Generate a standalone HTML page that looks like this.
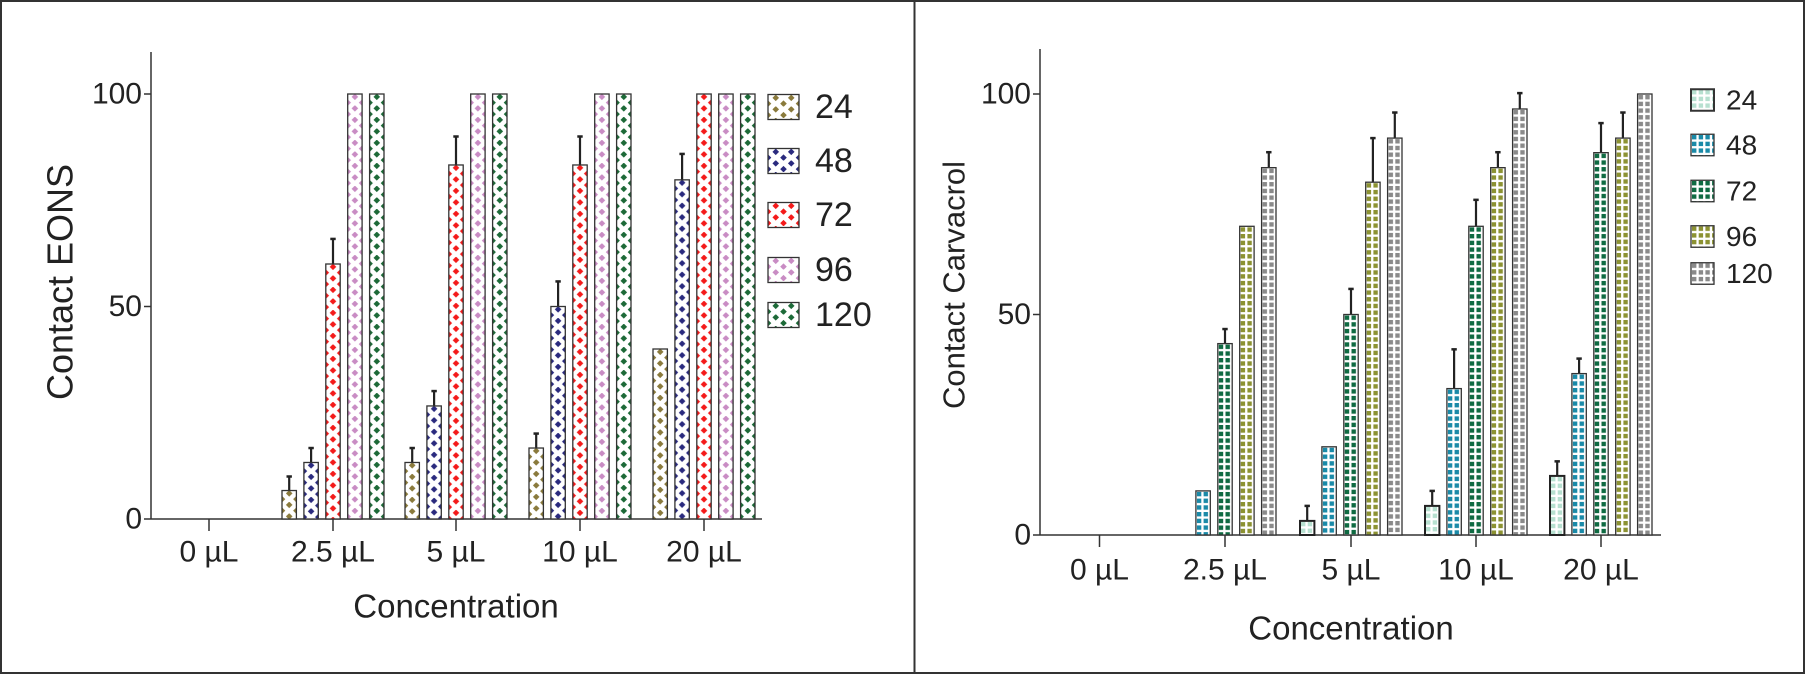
<!DOCTYPE html>
<html><head><meta charset="utf-8"><style>
html,body{margin:0;padding:0;background:#fff;}
svg{display:block;font-family:"Liberation Sans",sans-serif;}
</style></head><body>
<svg id="s" width="1805" height="674" xmlns="http://www.w3.org/2000/svg">
<defs id="d"></defs>
<rect x="1" y="1" width="1803" height="672" fill="#fff" stroke="#333" stroke-width="2"/>
<line x1="914.5" y1="0" x2="914.5" y2="674" stroke="#333" stroke-width="2"/>
<g id="g"></g>
</svg>
<script>
var NS="http://www.w3.org/2000/svg",g=document.getElementById('g'),d=document.getElementById('d'),pid=0;
function el(t,a,p){var e=document.createElementNS(NS,t);for(var k in a)e.setAttribute(k,a[k]);(p||g).appendChild(e);return e;}
function txt(x,y,s,fs,anc,rot){var t=el('text',{x:x,y:y,'font-size':fs,'text-anchor':anc||'middle','dominant-baseline':'central',fill:'#222'});if(rot)t.setAttribute('transform','rotate(-90 '+x+' '+y+')');t.textContent=s;return t;}
function diamond(x,y,w,col){var id='p'+(pid++);var H=11.5;var p=el('pattern',{id:id,patternUnits:'userSpaceOnUse',x:x,y:y,width:w,height:H},d);
 el('rect',{width:w,height:H,fill:'#fff'},p);
 var h=w/2,r=3.3;
 [[h,H*0.25],[0,H*0.75],[w,H*0.75]].forEach(function(c){el('polygon',{points:(c[0])+','+(c[1]-r)+' '+(c[0]+r)+','+c[1]+' '+c[0]+','+(c[1]+r)+' '+(c[0]-r)+','+c[1],fill:col},p);});
 return 'url(#'+id+')';}
function grid(x,y,col){var id='p'+(pid++);var p=el('pattern',{id:id,patternUnits:'userSpaceOnUse',x:x+1,y:y+1,width:6.7,height:6.7},d);
 el('rect',{width:6.7,height:6.7,fill:'#fff'},p);el('rect',{x:0,y:0,width:4.4,height:4.4,fill:col},p);return 'url(#'+id+')';}
function panel(o){
 var y0=o.y0,k=o.k;
 el('line',{x1:o.ax,y1:o.top,x2:o.ax,y2:y0,stroke:'#333','stroke-width':1.5});
 el('line',{x1:o.ax,y1:y0,x2:o.xend,y2:y0,stroke:'#333','stroke-width':1.5});
 [0,50,100].forEach(function(v){var y=y0-v*k;el('line',{x1:o.ax-7,y1:y,x2:o.ax,y2:y,stroke:'#333','stroke-width':1.5});txt(o.ax-9,y,String(v),30,'end');});
 var cats=['0 µL','2.5 µL','5 µL','10 µL','20 µL'];
 o.cx.forEach(function(c,ci){el('line',{x1:c,y1:y0,x2:c,y2:y0+12,stroke:'#333','stroke-width':1.5});txt(c,o.cly,cats[ci],30);
  for(var i=0;i<5;i++){var v=o.vals[ci][i];if(!v)continue;var x=c+(i-2)*21.9-7.2,y=y0-v*k,h=v*k;
   var e=o.errs[ci][i];
   if(e){var ye=y0-e*k;el('line',{x1:x+7.2,y1:y,x2:x+7.2,y2:ye,stroke:'#222','stroke-width':2.2});el('line',{x1:x+4.5,y1:ye,x2:x+9.9,y2:ye,stroke:'#222','stroke-width':2.5});}
   var f=o.type=='d'?diamond(x,y,14.4,o.cols[i]):grid(x,y,o.cols[i]);
   el('rect',{x:x,y:y,width:14.4,height:h,fill:f,stroke:(o.type=='g'&&i==0)?'#222':'#333','stroke-width':(o.type=='g'&&i==0)?2:1.3});}
 });
 o.leg.forEach(function(L,i){var f=o.type=='d'?diamond(o.lx,L-12,o.lw/2,o.cols[i]):grid(o.lx,L-11,o.cols[i]);
  el('rect',{x:o.lx,y:L-o.lh/2,width:o.lw,height:o.lh,fill:f,stroke:'#333','stroke-width':(o.type=='g'&&i==0)?2:1.3});
  txt(o.ltx,L,['24','48','72','96','120'][i],o.lfs,'start');});
 txt(o.xlx,o.xly,'Concentration',33);
 txt(o.ylx,o.yly,o.ylab,o.ylfs,'middle',true);
}
panel({type:'d',ax:151,top:52,y0:519,k:4.25,xend:762,cx:[209,333,456,580,704],cly:552,
 cols:['#8a7a3c','#2a2a7e','#f41a1a','#c98cc4','#1d6a38'],
 vals:[[0,0,0,0,0],[6.7,13.3,60,100,100],[13.3,26.6,83.3,100,100],[16.7,50,83.3,100,100],[40,79.8,100,100,100]],
 errs:[[0,0,0,0,0],[10,16.7,65.9,0,0],[16.7,30.1,90,0,0],[20.1,55.9,90,0,0],[0,85.9,0,0,0]],
 leg:[107,161,215,270,315],lx:768,lw:31,lh:25,ltx:815,lfs:34,
 xlx:456,xly:606,ylx:60,yly:282,ylab:'Contact EONS',ylfs:36});
panel({type:'g',ax:1040,top:49,y0:535,k:4.41,xend:1661,cx:[1099.5,1225,1351,1476,1601],cly:570,
 cols:['#b7e0d0','#1a8aa8','#0f6a42','#8c9232','#8a8a8a'],
 vals:[[0,0,0,0,0],[0,10,43.4,70,83.3],[3.2,20,50,80,90],[6.6,33.2,70,83.3,96.6],[13.4,36.6,86.7,90,100]],
 errs:[[0,0,0,0,0],[0,0,46.7,0,86.8],[6.6,0,55.8,90,95.8],[10,42.1,76,86.8,100.2],[16.7,40,93.4,95.8,0]],
 leg:[100,145,191,236.5,273.5],lx:1691,lw:23,lh:21.5,ltx:1726,lfs:28,
 xlx:1351,xly:628,ylx:954,yly:285,ylab:'Contact Carvacrol',ylfs:31});
</script>
</body></html>
